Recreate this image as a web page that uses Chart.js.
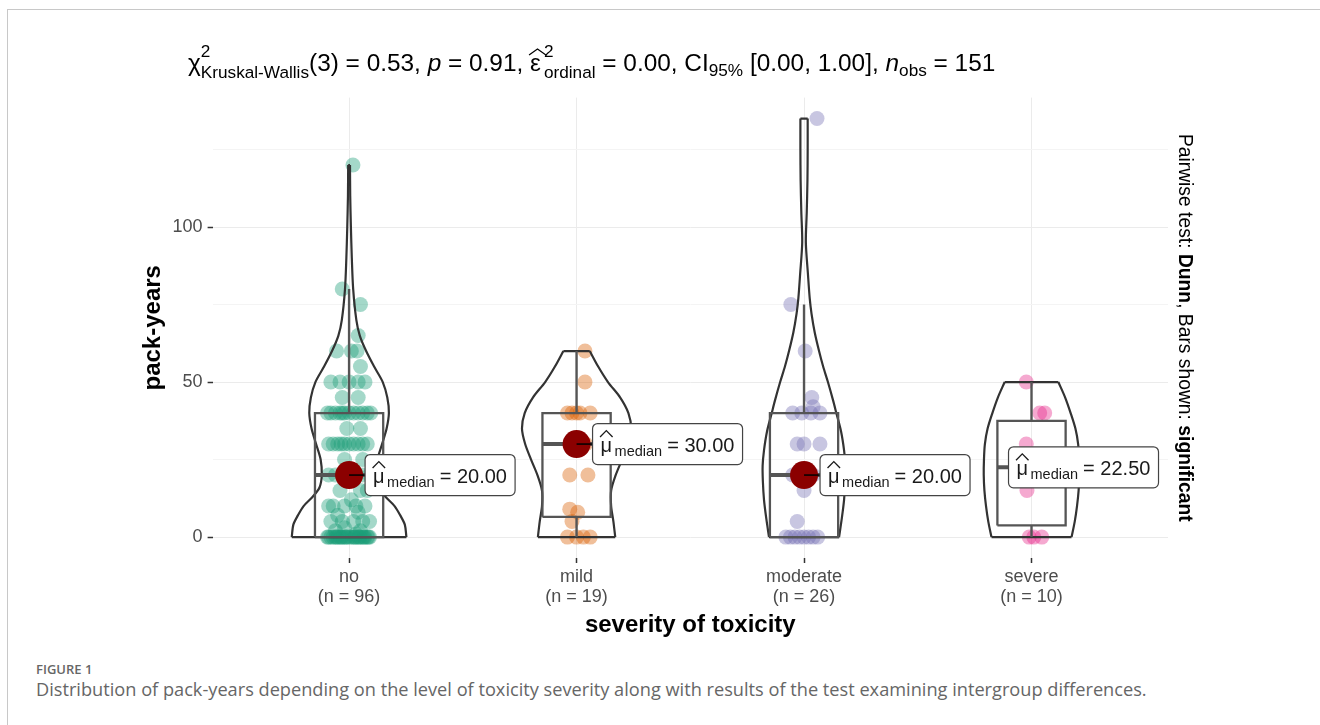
<!DOCTYPE html>
<html>
<head>
<meta charset="utf-8">
<script src="https://cdn.jsdelivr.net/npm/chart.js@4.4.1/dist/chart.umd.min.js"></script>
<style>
  html, body { margin: 0; padding: 0; background: #fff; }
  #wrap { position: relative; width: 1320px; height: 725px; overflow: hidden; }
  #frame { position: absolute; left: 7px; top: 9px; right: 0; bottom: 0;
           border-left: 1px solid #c8c8c8; border-top: 1px solid #c8c8c8; }
  #myChart { position: absolute; left: 0; top: 0; }
  .fig { position: absolute; left: 36px; top: 663px; font: 600 13px "Open Sans", sans-serif;
         line-height: 1; color: #666; }
  .cap { position: absolute; left: 36px; top: 680px; font: 18.2px "Open Sans", sans-serif;
         line-height: 1; color: #666; white-space: nowrap; }
</style>
</head>
<body>
<div id="wrap">
  <div id="frame"></div>
  <canvas id="myChart" width="1320" height="645"></canvas>
  <div class="fig">FIGURE 1</div>
  <div class="cap">Distribution of pack-years depending on the level of toxicity severity along with results of the test examining intergroup differences.</div>
</div>
<script>
// группы и данные
const groups = ['no', 'mild', 'moderate', 'severe'];
const groupN = [96, 19, 26, 10];
const yTicks = [0, 25, 50, 75, 100, 125];

const noValues = [0,0,0,0,0,0,0,0,0,0,0,0,0,0,0,0,0,0,0,0,0,0,0,0,0,0,0,
  1, 2,2, 3, 5,5,5,5,5, 7, 8, 10,10,10,10,10, 12, 15,15,15,
  20,20,20,20,20,20,20,20, 25,25, 30,30,30,30,30,30,30,30,30,30, 35,35,
  40,40,40,40,40,40,40,40,40,40,40,40, 45,45, 50,50,50,50,50, 55, 60,60,60, 65, 75, 80, 120];
const noJitter = [-0.09,-0.07,-0.05,-0.03,-0.01,0.01,0.03,0.05,0.07,0.09,-0.08,-0.06,-0.04,-0.02,0,0.02,0.04,0.06,0.08,-0.095,-0.055,-0.015,0.025,0.065,-0.035,0.045,0.085,
  0.03, -0.06,0.05, -0.02, -0.08,-0.03,0.02,0.06,0.09, -0.05, 0.04, -0.07,-0.02,0.03,0.07,-0.09, 0.01, -0.04,0.05,0.08,
  -0.09,-0.06,-0.03,0,0.03,0.06,0.09,-0.015, -0.02,0.06, -0.09,-0.07,-0.05,-0.02,0,0.02,0.04,0.06,0.08,-0.035, -0.01,0.05,
  -0.095,-0.08,-0.06,-0.04,-0.02,0,0.02,0.04,0.06,0.08,0.095,-0.03, -0.03,0.04, -0.08,-0.04,0,0.04,0.07, 0.05, -0.055,0.01,0.035, 0.04, 0.05, -0.03, 0.017];

const mildValues = [0,0,0,0, 5, 8, 9, 20,20, 30,30,30, 40,40,40,40,40, 50, 60];
const mildJitter = [-0.04,0,0.03,0.06, -0.02, 0.005, -0.03, -0.03,0.05, -0.01,0.02,0.04, -0.04,0,0.015,0.06,-0.02, 0.037, 0.037];

const moderateValues = [0,0,0,0,0,0,0,0, 5, 15, 20,20,20,20, 30,30,30, 40,40,40,40, 42, 45, 60, 75, 135];
const moderateJitter = [-0.08,-0.06,-0.04,-0.02,0,0.02,0.04,0.06, -0.03, 0, -0.05,-0.02,0.01,0.04, -0.03,0,0.07, -0.05,-0.01,0.03,0.07, 0.04, 0.034, 0.005, -0.058, 0.057];

const severeValues = [0,0,0, 15, 20, 25, 30, 40,40, 50];
const severeJitter = [-0.01,0.01,0.045, -0.02, 0.014, 0.03, -0.023, 0.036,0.058, -0.023];

// коробки
const boxQ1 = [0, 6.5, 0, 3.75];
const boxMedian = [20, 30, 20, 22.5];
const boxQ3 = [40, 40, 40, 37.5];
const whiskerLow = [0, 0, 0, 0];
const whiskerHigh = [80, 60, 75, 50];

// скрипки: уровни и полуширина (плотность)
const noViolinY = [0, 4, 7, 10, 13, 16, 20, 25, 30, 35, 40, 45, 50, 55, 60, 65, 70, 80, 90, 100, 110, 120];
const noViolinW = [0.252, 0.245, 0.225, 0.2, 0.16, 0.13, 0.12, 0.125, 0.145, 0.165, 0.175, 0.168, 0.148, 0.11, 0.075, 0.047, 0.032, 0.018, 0.012, 0.008, 0.005, 0.004];
const mildViolinY = [0, 5, 10, 15, 20, 25, 30, 35, 40, 45, 50, 55, 60];
const mildViolinW = [0.17, 0.162, 0.152, 0.152, 0.172, 0.2, 0.226, 0.24, 0.228, 0.192, 0.138, 0.095, 0.058];
const moderateViolinY = [0, 6, 12, 18, 23, 28, 34, 40, 44, 50, 55, 60, 66, 72, 77, 85, 95, 105, 115, 125, 135];
const moderateViolinW = [0.154, 0.166, 0.176, 0.181, 0.182, 0.176, 0.163, 0.142, 0.128, 0.105, 0.084, 0.066, 0.047, 0.033, 0.025, 0.017, 0.008, 0.012, 0.015, 0.016, 0.016];
const severeViolinY = [0, 5, 10, 15, 20, 25, 30, 35, 40, 45, 50];
const severeViolinW = [0.176, 0.19, 0.2, 0.207, 0.21, 0.209, 0.205, 0.193, 0.172, 0.148, 0.118];

const values = [noValues, mildValues, moderateValues, severeValues];
const jitters = [noJitter, mildJitter, moderateJitter, severeJitter];
const violinY = [noViolinY, mildViolinY, moderateViolinY, severeViolinY];
const violinW = [noViolinW, mildViolinW, moderateViolinW, severeViolinW];
const pointColors = ['rgba(27,158,119,0.4)', 'rgba(217,95,2,0.4)', 'rgba(117,112,179,0.4)', 'rgba(231,41,138,0.4)'];

const FONT = '"Liberation Sans", Arial, sans-serif';
const boxHalf = 0.15;
const labelNudge = [16, 16, 16, -23];

const datasets = [];
// красные точки медиан
datasets.push({
  type: 'scatter', data: groups.map((g, i) => ({ x: i, y: boxMedian[i] })),
  pointRadius: 14, pointBackgroundColor: '#8b0000', pointBorderWidth: 0, order: 0
});

const lineDs = (data, color, width, tension, order) => ({
  type: 'line', data: data, borderColor: color, borderWidth: width, pointRadius: 0,
  tension: tension, fill: false, order: order, borderCapStyle: 'butt'
});

groups.forEach((g, i) => {
  // коробка
  datasets.push(lineDs([
    { x: i - boxHalf, y: boxQ1[i] }, { x: i + boxHalf, y: boxQ1[i] },
    { x: i + boxHalf, y: boxQ3[i] }, { x: i - boxHalf, y: boxQ3[i] },
    { x: i - boxHalf, y: boxQ1[i] }], '#555', 2.3, 0, 1));
  datasets.push(lineDs([{ x: i, y: boxQ3[i] }, { x: i, y: whiskerHigh[i] }], '#555', 2.4, 0, 1));
  datasets.push(lineDs([{ x: i, y: boxQ1[i] }, { x: i, y: whiskerLow[i] }], '#555', 2.4, 0, 1));
  datasets.push(lineDs([{ x: i - boxHalf, y: boxMedian[i] }, { x: i + boxHalf, y: boxMedian[i] }], '#555', 4, 0, 1));

  // скрипка
  const ys = violinY[i], ws = violinW[i], last = ys.length - 1;
  datasets.push(lineDs(ys.map((y, k) => ({ x: i + ws[k], y: y })), '#333', 2.2, 0.3, 2));
  datasets.push(lineDs(ys.map((y, k) => ({ x: i - ws[k], y: y })), '#333', 2.2, 0.3, 2));
  datasets.push(lineDs([{ x: i - ws[0], y: ys[0] }, { x: i + ws[0], y: ys[0] }], '#333', 2.2, 0, 2));
  datasets.push(lineDs([{ x: i - ws[last], y: ys[last] }, { x: i + ws[last], y: ys[last] }], '#333', 2.2, 0, 2));

  // точки
  datasets.push({
    type: 'scatter', data: values[i].map((v, k) => ({ x: i + jitters[i][k], y: v })),
    pointRadius: 7.5, pointBackgroundColor: pointColors[i], pointBorderWidth: 0, order: 3
  });
});

// подписи медиан
const medianLabels = {
  id: 'medianLabels',
  afterDatasetsDraw(chart) {
    const ctx = chart.ctx, xs = chart.scales.x, ys = chart.scales.y;
    ctx.save();
    groups.forEach((g, i) => {
      const px = xs.getPixelForValue(i), py = ys.getPixelForValue(boxMedian[i]);
      const x0 = px + labelNudge[i], y0 = py - 20.5, w = 150, h = 41;
      if (labelNudge[i] > 0) {
        ctx.strokeStyle = '#000'; ctx.lineWidth = 1.5;
        ctx.beginPath(); ctx.moveTo(px, py); ctx.lineTo(x0, py); ctx.stroke();
      }
      ctx.beginPath(); ctx.roundRect(x0, y0, w, h, 5);
      ctx.fillStyle = '#fff'; ctx.fill();
      ctx.strokeStyle = '#444'; ctx.lineWidth = 1.2; ctx.stroke();

      ctx.fillStyle = '#1a1a1a'; ctx.textBaseline = 'alphabetic'; ctx.textAlign = 'left';
      ctx.font = '20px ' + FONT;
      const mx = x0 + 8;
      ctx.fillText('μ', mx, py + 8);
      const muW = ctx.measureText('μ').width;
      ctx.strokeStyle = '#1a1a1a'; ctx.lineWidth = 1.3;
      ctx.beginPath(); ctx.moveTo(mx - 0.5, py - 7); ctx.lineTo(mx + muW / 2, py - 13.5); ctx.lineTo(mx + muW + 0.5, py - 7); ctx.stroke();
      ctx.font = '14.5px ' + FONT;
      const sx = mx + muW + 2.5;
      ctx.fillText('median', sx, py + 12);
      const subW = ctx.measureText('median').width;
      ctx.font = '20px ' + FONT;
      ctx.fillText('= ' + boxMedian[i].toFixed(2), sx + subW + 5, py + 8);
    });
    ctx.restore();
  }
};

// заголовок и подписи осей
const texts = {
  id: 'texts',
  afterDraw(chart) {
    const ctx = chart.ctx, area = chart.chartArea;
    ctx.save();
    ctx.fillStyle = '#000'; ctx.textAlign = 'left'; ctx.textBaseline = 'alphabetic';
    const S = 24.4, s = 17.2, base = 71;
    let x = 188;
    const run = (t, sz, dy, st) => {
      ctx.font = (st || '') + ' ' + sz + 'px ' + FONT;
      ctx.fillText(t, x, base + dy);
      return ctx.measureText(t).width;
    };
    const hat = (hx, hw, hy) => {
      ctx.strokeStyle = '#000'; ctx.lineWidth = 1.2;
      ctx.beginPath(); ctx.moveTo(hx, hy); ctx.lineTo(hx + hw / 2, hy - 6); ctx.lineTo(hx + hw, hy); ctx.stroke();
    };
    x += run('χ', S, 0);
    x += Math.max(run('2', s, -14), run('Kruskal-Wallis', s, 7));
    x += run('(3) = 0.53, ', S, 0);
    x += run('p', S, 0, 'italic');
    x += run(' = 0.91, ', S, 0);
    const ew = run('ε', S, 0);
    hat(x - 1, ew + 6, base - 16);
    x += ew + 3;
    x += Math.max(run('2', s, -14), run('ordinal', s, 7));
    x += run(' = 0.00, CI', S, 0);
    x += run('95%', s, 5);
    x += run(' [0.00, 1.00], ', S, 0);
    x += run('n', S, 0, 'italic');
    x += run('obs', s, 5);
    x += run(' = 151', S, 0);

    // ось X
    ctx.textAlign = 'center';
    ctx.font = 'bold 24px ' + FONT;
    ctx.fillText('severity of toxicity', (area.left + area.right) / 2, 632);

    // ось Y
    const cy = (area.top + area.bottom) / 2;
    ctx.save();
    ctx.translate(160, cy); ctx.rotate(-Math.PI / 2);
    ctx.font = 'bold 24px ' + FONT;
    ctx.fillText('pack-years', 0, 0);
    ctx.restore();

    // правая подпись
    const parts = [['Pairwise test: ', ''], ['Dunn', 'bold '], [', Bars shown: ', ''], ['significant', 'bold ']];
    const fs = 19.3;
    let total = 0;
    parts.forEach(p => { ctx.font = p[1] + fs + 'px ' + FONT; total += ctx.measureText(p[0]).width; });
    ctx.save();
    ctx.translate(1179, cy); ctx.rotate(Math.PI / 2);
    ctx.textAlign = 'left';
    let tx = -total / 2;
    parts.forEach(p => { ctx.font = p[1] + fs + 'px ' + FONT; ctx.fillText(p[0], tx, 0); tx += ctx.measureText(p[0]).width; });
    ctx.restore();
    ctx.restore();
  }
};

const ctx = document.getElementById('myChart').getContext('2d');
const myChart = new Chart(ctx, {
  type: 'scatter',
  data: { datasets: datasets },
  options: {
    responsive: false,
    animation: false,
    events: [],
    layout: { padding: { left: 0, top: 97.6, right: 152, bottom: 0 } },
    plugins: { legend: { display: false }, tooltip: { enabled: false } },
    scales: {
      x: {
        type: 'linear', min: -0.6, max: 3.6, bounds: 'data',
        afterBuildTicks: (s) => { s.ticks = groups.map((g, i) => ({ value: i })); },
        afterFit: (s) => { s.height = 87; },
        ticks: {
          autoSkip: false, maxRotation: 0, padding: 4, color: '#4d4d4d',
          font: { family: FONT, size: 18, lineHeight: 1.11 },
          callback: (v) => [groups[v], '(n = ' + groupN[v] + ')']
        },
        grid: { color: '#ebebeb', lineWidth: 1, tickLength: 5, tickColor: '#333', tickWidth: 1.5 },
        border: { display: false }
      },
      y: {
        min: -6.75, max: 141.75, bounds: 'data',
        afterBuildTicks: (s) => { s.ticks = yTicks.map(v => ({ value: v })); },
        afterFit: (s) => { s.width = 212.6; },
        ticks: {
          padding: 5, color: '#4d4d4d', font: { family: FONT, size: 18 },
          callback: (v) => (v % 50 === 0 ? String(v) : '')
        },
        grid: {
          color: (c) => (c.tick && c.tick.value % 50 === 0 ? '#ebebeb' : '#f4f4f4'),
          tickColor: (c) => (c.tick && c.tick.value % 50 === 0 ? '#333' : 'rgba(0,0,0,0)'),
          lineWidth: 1, tickLength: 5, tickWidth: 1.5
        },
        border: { display: false }
      }
    }
  },
  plugins: [medianLabels, texts]
});
</script>
</body>
</html>
